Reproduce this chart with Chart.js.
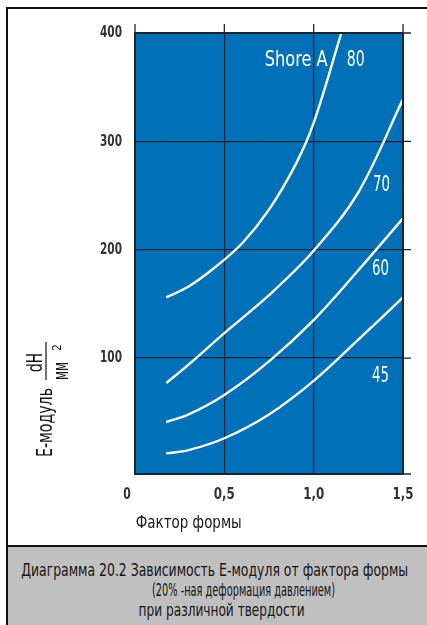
<!DOCTYPE html>
<html>
<head>
<meta charset="utf-8">
<script src="https://cdn.jsdelivr.net/npm/chart.js@4.4.1/dist/chart.umd.min.js"></script>
<style>
html, body { margin: 0; padding: 0; background: #fff; overflow: hidden; }
#page { position: relative; width: 427px; height: 625px; overflow: hidden; }
#frame { position: absolute; left: 6px; top: 7px; width: 440px; height: 640px; border: 2px solid #111; box-sizing: border-box; }
#chart { position: absolute; left: 0; top: 0; }
#caption { position: absolute; left: 8px; top: 545px; width: 440px; height: 100px; background: #c0c0c0; border-top: 2px solid #111; }
.txt { position: absolute; white-space: nowrap; transform-origin: 50% 50%; color: #151515; font-size: 18px; line-height: 20px; }
</style>
</head>
<body>
<div id="page">
  <div id="frame"></div>
  <div id="caption"></div>
  <canvas id="chart" width="427" height="540"></canvas>
  <div class="txt" id="xtitle" style="top:512px">Фактор формы</div>
  <div class="txt" id="cap1" style="top:560px">Диаграмма 20.2 Зависимость E-модуля от фактора формы</div>
  <div class="txt" id="cap2" style="top:580px">(20% -ная деформация давлением)</div>
  <div class="txt" id="cap3" style="top:600px">при различной твердости</div>
</div>
<script>
const shapeFactor = [0.175, 0.3, 0.5, 0.75, 1.0, 1.25, 1.5];
const shapeFactor80 = [0.175, 0.3, 0.45, 0.6, 0.75, 0.9, 1.0, 1.155];
const shoreA80 = [156, 166, 184, 206, 237, 279, 317, 400];
const shoreA70 = [77, 94, 123, 158, 199, 253, 339];
const shoreA60 = [41, 48, 66, 97, 135, 181, 229];
const shoreA45 = [12, 15, 26, 48, 79, 117, 156];

const xTickValues = [0, 0.5, 1.0, 1.5];
const xTickLabels = ['0', '0,5', '1,0', '1,5'];
const yTickValues = [100, 200, 300, 400];

// подписи кривых (в единицах осей)
const curveLabels = [
    { text: 'Shore A', x: 0.902, y: 377, w: 63 },
    { text: '80', x: 1.235, y: 377, w: 18 },
    { text: '70', x: 1.38, y: 262, w: 17 },
    { text: '60', x: 1.374, y: 184, w: 17 },
    { text: '45', x: 1.374, y: 85, w: 17 }
];

const plotBlue = '#0070b8';
const gridColor = '#1b2531';
const tickColor = '#333333';

// узкий шрифт, если установлен
function pickFont(list) {
    const c = document.createElement('canvas').getContext('2d');
    const probe = 'Зависимость E-модуля 0123';
    c.font = '40px monospace';
    const base = c.measureText(probe).width;
    for (const f of list) {
        c.font = '40px "' + f + '", monospace';
        if (Math.abs(c.measureText(probe).width - base) > 1) return f;
    }
    return 'Liberation Sans';
}
const FONT = pickFont(['Liberation Sans Narrow', 'DejaVu Sans Condensed', 'Roboto Condensed', 'Noto Sans Condensed']);

// HTML-подписи: сжатие по ширине
function placeText(id, center, width) {
    const el = document.getElementById(id);
    el.style.fontFamily = '"' + FONT + '"';
    const w = el.getBoundingClientRect().width;
    el.style.left = (center - w / 2) + 'px';
    el.style.transform = 'scaleX(' + (width / w) + ')';
}
placeText('xtitle', 189, 106);
placeText('cap1', 214.5, 387);
placeText('cap2', 244, 183);
placeText('cap3', 221.5, 166);

function toPoints(xs, ys) {
    return xs.map((x, i) => ({ x: x, y: ys[i] }));
}

function fillFitted(ctx, text, x, y, width, align) {
    const natural = ctx.measureText(text).width;
    ctx.save();
    ctx.translate(x, y);
    ctx.scale(width / natural, 1);
    ctx.textAlign = align || 'center';
    ctx.fillText(text, 0, 0);
    ctx.restore();
}

const framePlugin = {
    id: 'frame',
    beforeDraw(chart) {
        const { ctx, chartArea: a } = chart;
        ctx.save();
        ctx.fillStyle = plotBlue;
        ctx.fillRect(a.left, a.top, a.right - a.left, a.bottom - a.top);
        ctx.restore();
    },
    afterDatasetsDraw(chart) {
        const { ctx, scales: { x, y } } = chart;
        ctx.save();
        ctx.fillStyle = '#ffffff';
        ctx.textBaseline = 'alphabetic';
        ctx.font = '21px "' + FONT + '"';
        curveLabels.forEach(l => {
            const m = ctx.measureText(l.text);
            const cy = y.getPixelForValue(l.y) + (m.actualBoundingBoxAscent - m.actualBoundingBoxDescent) / 2;
            fillFitted(ctx, l.text, x.getPixelForValue(l.x), cy, l.w);
        });
        ctx.restore();
    },
    afterDraw(chart) {
        const { ctx, chartArea: a, scales: { x, y } } = chart;
        ctx.save();
        ctx.strokeStyle = gridColor;
        // верхняя и правая рамка
        ctx.lineWidth = 2;
        ctx.beginPath();
        ctx.moveTo(a.left, a.top);
        ctx.lineTo(a.right, a.top);
        ctx.lineTo(a.right, a.bottom);
        ctx.stroke();
        // выступающие риски
        ctx.lineWidth = 1.3;
        ctx.beginPath();
        x.ticks.forEach(t => {
            const px = x.getPixelForValue(t.value);
            ctx.moveTo(px, a.top - 9);
            ctx.lineTo(px, a.top);
        });
        y.ticks.map(t => t.value).concat([y.min]).forEach(v => {
            const py = y.getPixelForValue(v);
            ctx.moveTo(a.right, py);
            ctx.lineTo(a.right + 8, py);
        });
        ctx.stroke();

        // подписи делений (узкий шрифт)
        ctx.fillStyle = tickColor;
        ctx.font = 'bold 16px "' + FONT + '"';
        ctx.textBaseline = 'middle';
        y.ticks.forEach(t => {
            fillFitted(ctx, String(t.value), a.left - 13, y.getPixelForValue(t.value), 22, 'right');
        });
        x.ticks.forEach((t, i) => {
            const label = xTickLabels[xTickValues.indexOf(t.value)];
            const px = x.getPixelForValue(t.value) - (i === 0 ? 8 : 0);
            fillFitted(ctx, label, px, a.bottom + 21, label.length > 1 ? 21 : 7.5, 'center');
        });

        // подпись оси Y
        ctx.fillStyle = '#151515';
        ctx.translate(46, 457);
        ctx.rotate(-Math.PI / 2);
        ctx.textBaseline = 'alphabetic';
        ctx.font = '21px "' + FONT + '"';
        fillFitted(ctx, 'E-модуль', 0, 6, 69, 'left');
        ctx.fillRect(77, -0.6, 38, 1.2);
        fillFitted(ctx, 'dH', 94.5, -4, 19, 'center');
        fillFitted(ctx, 'мм', 77, 22, 18, 'left');
        ctx.font = '12px "' + FONT + '"';
        ctx.textAlign = 'left';
        ctx.fillText('2', 106, 15);
        ctx.restore();
    }
};

const lineStyle = {
    borderColor: '#ffffff',
    borderWidth: 2.4,
    pointRadius: 0,
    fill: false,
    cubicInterpolationMode: 'default',
    tension: 0.35
};

new Chart(document.getElementById('chart'), {
    type: 'line',
    data: {
        datasets: [
            Object.assign({ label: '80', data: toPoints(shapeFactor80, shoreA80) }, lineStyle),
            Object.assign({ label: '70', data: toPoints(shapeFactor, shoreA70) }, lineStyle),
            Object.assign({ label: '60', data: toPoints(shapeFactor, shoreA60) }, lineStyle),
            Object.assign({ label: '45', data: toPoints(shapeFactor, shoreA45) }, lineStyle)
        ]
    },
    options: {
        responsive: false,
        animation: false,
        devicePixelRatio: 1,
        layout: { padding: { top: 33, right: 24, bottom: 26, left: 0 } },
        plugins: { legend: { display: false }, tooltip: { enabled: false }, title: { display: false } },
        scales: {
            x: {
                type: 'linear',
                min: 0,
                max: 1.5,
                afterBuildTicks: s => { s.ticks = xTickValues.map(v => ({ value: v })); },
                afterFit: s => { s.height = 40; },
                ticks: { display: false },
                grid: { color: gridColor, lineWidth: 1.3, drawTicks: false },
                border: { display: true, color: gridColor, width: 2 }
            },
            y: {
                type: 'linear',
                min: -7,
                max: 400,
                afterBuildTicks: s => { s.ticks = yTickValues.map(v => ({ value: v })); },
                afterFit: s => { s.width = 135; },
                ticks: { display: false },
                grid: { color: gridColor, lineWidth: 1.3, drawTicks: false },
                border: { display: true, color: gridColor, width: 2 }
            }
        }
    },
    plugins: [framePlugin]
});
</script>
</body>
</html>
